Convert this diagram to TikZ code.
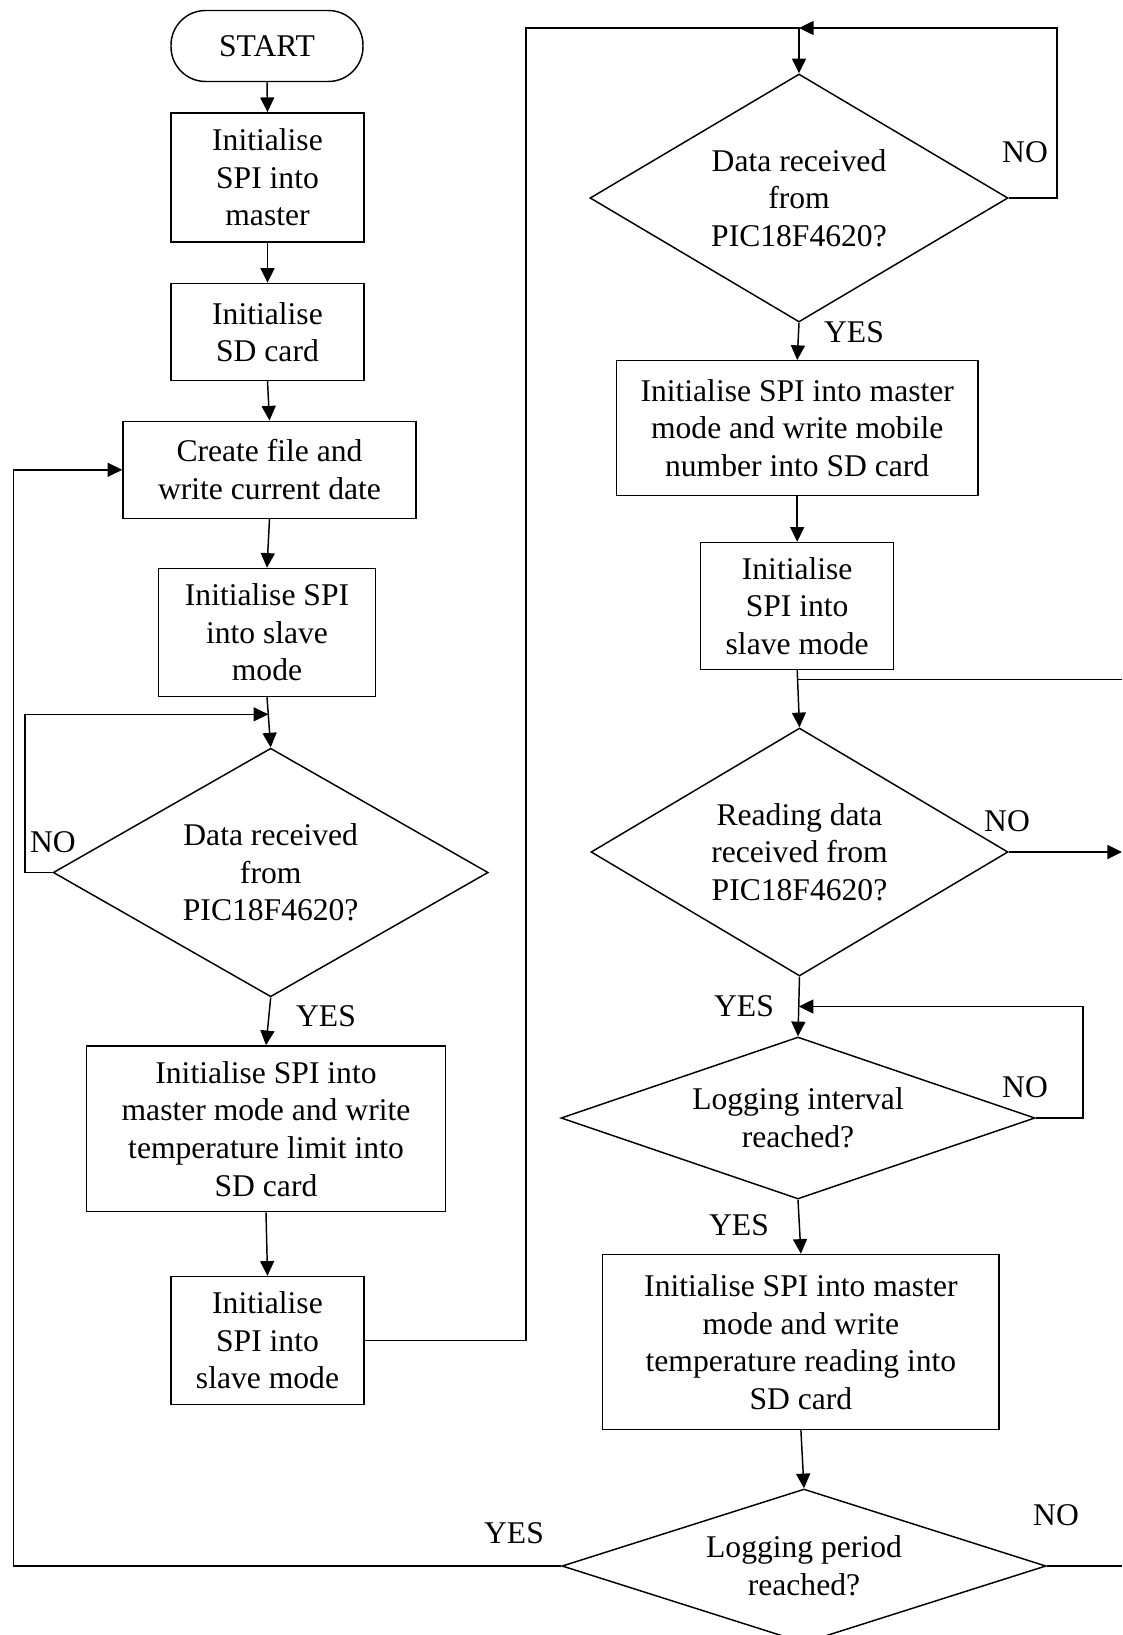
\documentclass[tikz,border=0pt]{standalone}
\usepackage{fontspec}
\setmainfont{Liberation Serif}
\usetikzlibrary{shapes.geometric,arrows.meta,calc}
% lengths are given in pixels of a 1122 x 1635 canvas
\newcommand\pxl[1]{#1*0.75pt}

\tikzset{
  flow/.style={draw, line width=1.1pt, inner sep=0pt, align=center,
               font=\fontsize{23.7}{28.2}\selectfont},
  box/.style={flow, rectangle},
  dec/.style={flow, diamond},
  lbl/.style={inner sep=0pt, font=\fontsize{23.7}{28.2}\selectfont},
  conn/.style={line width=1.1pt},
  arr/.style={conn, -{Triangle[length=11pt,width=10.5pt]}},
}

\begin{document}
\begin{tikzpicture}[x=0.75pt, y=-0.75pt]
\fill[white] (0,0) rectangle (1122,1635);
\useasboundingbox (0,0) rectangle (1122,1635);

% ---- left column ----
\node[box, rounded corners=26pt, minimum width=\pxl{192}, minimum height=\pxl{71}] (start) at (267,46) {START};
\node[box, minimum width=\pxl{193}, minimum height=\pxl{129}] (b1) at (267.5,177.3) {Initialise\\SPI into\\master};
\node[box, minimum width=\pxl{193}, minimum height=\pxl{97}] (b2) at (267.5,332) {Initialise\\SD card};
\node[box, minimum width=\pxl{293}, minimum height=\pxl{97}] (b3) at (269.5,469.8) {Create file and\\write current date};
\node[box, minimum width=\pxl{217}, minimum height=\pxl{128}] (b4) at (267,632.5) {Initialise SPI\\into slave\\mode};
\node[dec, aspect=1.75, minimum width=\pxl{435}, minimum height=\pxl{248.6}] (d1) at (270.7,872.5) {Data received\\from\\PIC18F4620?};
\node[box, minimum width=\pxl{358.7}, minimum height=\pxl{165.7}] (b5) at (266,1128.8) {Initialise SPI into\\master mode and write\\temperature limit into\\SD card};
\node[box, minimum width=\pxl{193}, minimum height=\pxl{128}] (b6) at (267.5,1340.5) {Initialise\\SPI into\\slave mode};

% ---- right column ----
\node[dec, aspect=1.69, minimum width=\pxl{418}, minimum height=\pxl{248}] (d2) at (799,198) {Data received\\from\\PIC18F4620?};
\node[box, minimum width=\pxl{361.8}, minimum height=\pxl{134.5}] (b7) at (797.2,428) {Initialise SPI into master\\mode and write mobile\\number into SD card};
\node[box, minimum width=\pxl{193}, minimum height=\pxl{127}] (b8) at (797.2,606) {Initialise\\SPI into\\slave mode};
\node[dec, aspect=1.69, minimum width=\pxl{417}, minimum height=\pxl{248}] (d3) at (799.5,852) {Reading data\\received from\\PIC18F4620?};
\node[dec, aspect=2.95, minimum width=\pxl{474}, minimum height=\pxl{162}] (d4) at (798,1118) {Logging interval\\reached?};
\node[box, minimum width=\pxl{396.3}, minimum height=\pxl{175}] (b9) at (800.9,1342) {Initialise SPI into master\\mode and write\\temperature reading into\\SD card};
\node[dec, aspect=3.15, minimum width=\pxl{484}, minimum height=\pxl{154}] (d5) at (804,1566) {Logging period\\reached?};

% ---- branch labels ----
\node[lbl] (no1)  at (53,842)     {NO};
\node[lbl] (yes1) at (326,1016)   {YES};
\node[lbl] (no2)  at (1025,152)   {NO};
\node[lbl] (yes2) at (854,332)    {YES};
\node[lbl] (no3)  at (1007,821.5) {NO};
\node[lbl] (yes3) at (744,1006)   {YES};
\node[lbl] (no4)  at (1025,1087)  {NO};
\node[lbl] (yes4) at (739,1225)   {YES};
\node[lbl] (yes5) at (514,1533)   {YES};
\node[lbl] (no5)  at (1056,1515)  {NO};

% ---- rails, junctions and free ends ----
\coordinate (rail1) at (25,0);
\coordinate (j1) at ($(b4.south)!0.34!(d1.north)$);
\coordinate (rail2) at (526,28);
\coordinate (loop2) at (1057,28);
\coordinate (j3) at ($(b8.south)!0.16!(d3.north)$);
\coordinate (edge) at (1122,0);
\coordinate (j4) at ($(d3.south)!0.5!(d4.north)$);
\coordinate (rail4) at (1083,0);
\coordinate (leftrail) at (13.5,0);

% ---- left column flow ----
\draw[arr] (start.south) -- (b1.north);
\draw[arr] (b1.south) -- (b2.north);
\draw[arr] (b2.south) -- (b3.north);
\draw[arr] (b3.south) -- (b4.north);
\draw[arr] (b4.south) -- (d1.north);
\draw[arr] (d1.west) -| (rail1 |- j1) -- (j1);
\draw[arr] (d1.south) -- (b5.north);
\draw[arr] (b5.south) -- (b6.north);
\draw[arr] (b6.east) -| (rail2) -| (d2.north);

% ---- right column flow ----
\draw[arr] (d2.east) -| (loop2) -- (d2.north |- loop2);
\draw[arr] (d2.south) -- (b7.north);
\draw[arr] (b7.south) -- (b8.north);
\draw[arr] (b8.south) -- (d3.north);
\draw[conn] (edge |- j3) -- (j3);
\draw[arr] (d3.east) -- (d3.east -| edge);
\draw[arr] (d3.south) -- (d4.north);
\draw[arr] (d4.east) -| (rail4 |- j4) -- (j4);
\draw[arr] (d4.south) -- (b9.north);
\draw[arr] (b9.south) -- (d5.north);
\draw[arr] (d5.west) -| (leftrail |- b3.west) -- (b3.west);
\draw[conn] (d5.east) -- (d5.east -| edge);
\end{tikzpicture}
\end{document}
